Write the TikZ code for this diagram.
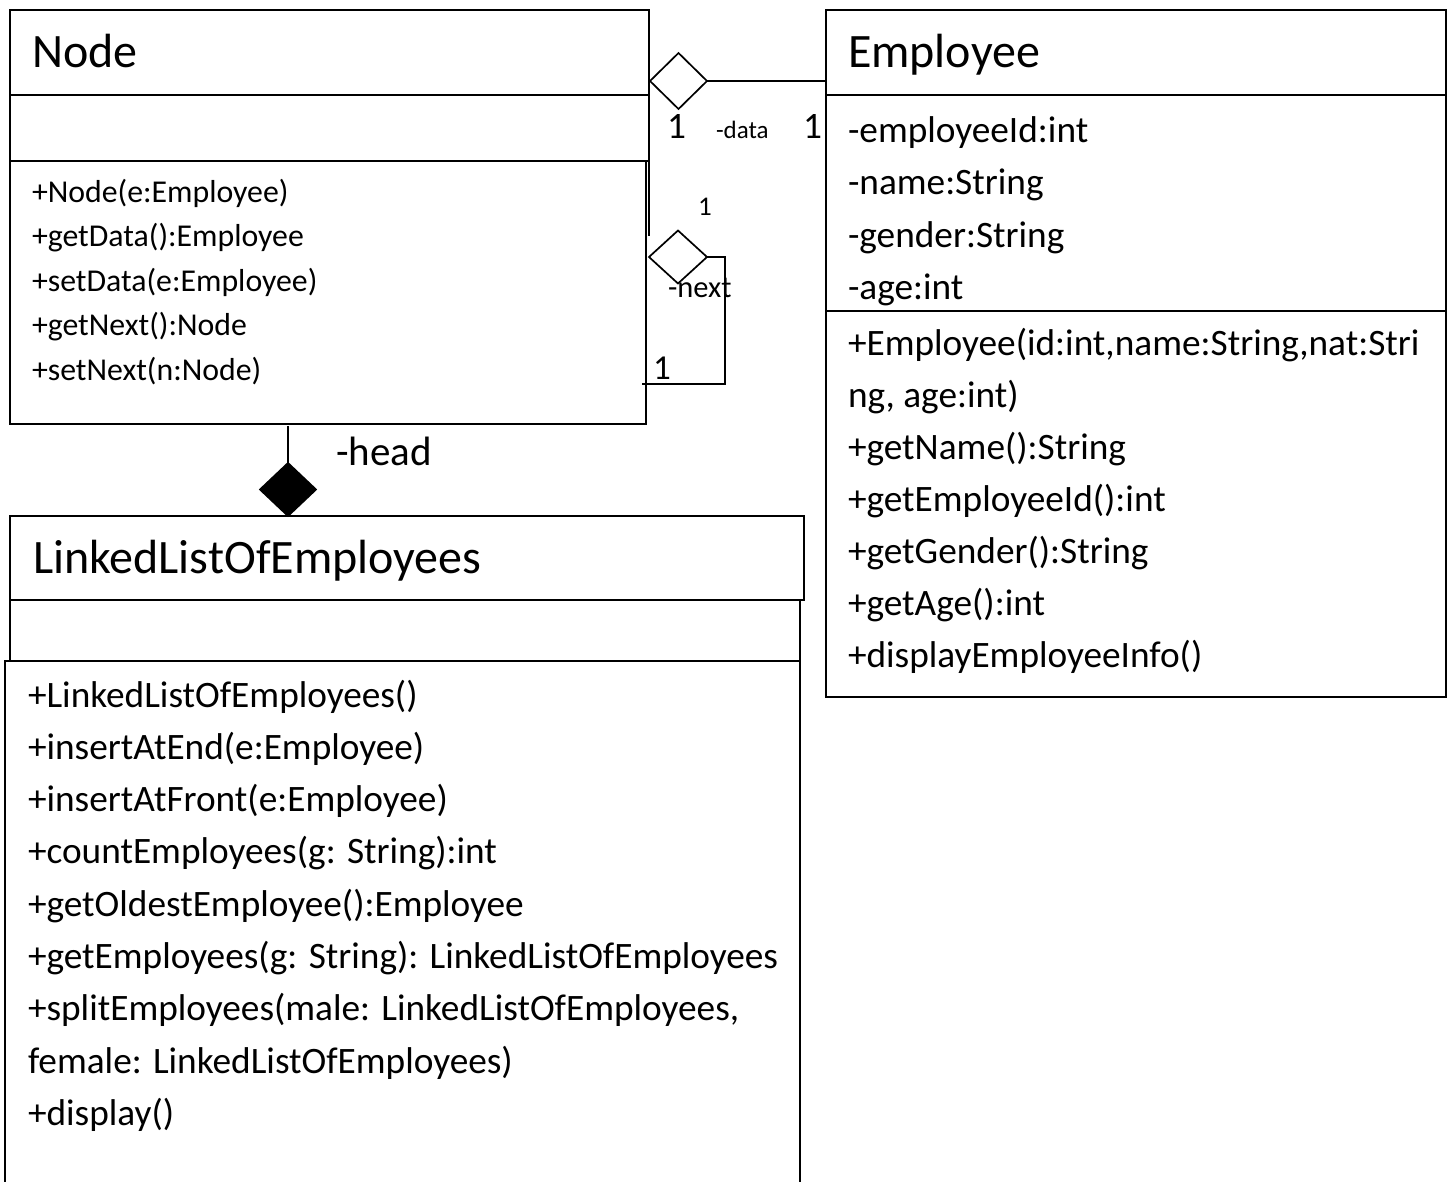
\documentclass[tikz,border=0pt]{standalone}
\usepackage{fontspec}
\setmainfont{Carlito}
\usetikzlibrary{shapes.geometric}
\begin{document}
\begin{tikzpicture}[x=1pt,y=-1pt,
  comp/.style={draw, line width=1.7pt, rectangle, inner sep=0pt, outer sep=0pt, anchor=north west},
  txt/.style={anchor=base west, inner sep=0pt, outer sep=0pt},
  ctitle/.style={txt, font=\fontsize{48}{57}\selectfont},
  member/.style={txt, font=\fontsize{37.3}{44}\selectfont},
  nmember/.style={txt, font=\fontsize{31.8}{38}\selectfont},
  conn/.style={line width=1.7pt},
  agg/.style={diamond, draw, line width=1.7pt, inner sep=0pt, outer sep=0pt, aspect=1}
]
\path[use as bounding box] (0,0) rectangle (1448,1181);
\clip (0,0) rectangle (1448,1181);

% ---------- Node class ----------
\node[comp, minimum width=639pt, minimum height=85pt] (nodeTitle) at (10,10) {};
\node[comp, minimum width=639pt, minimum height=66pt] (nodeAttr) at (10,95) {};
\node[comp, minimum width=636pt, minimum height=263pt] (nodeOps) at (10,161) {};
\draw[conn] (nodeAttr.south east) -- ++(0,75);
\node[ctitle] (nodeName) at (32,67) {Node};
\node[nmember] (n1) at (32,202) {+Node(e:Employee)};
\node[nmember] (n2) at (32,246.5) {+getData():Employee};
\node[nmember] (n3) at (32,291) {+setData(e:Employee)};
\node[nmember] (n4) at (32,335.5) {+getNext():Node};
\node[nmember] (n5) at (32,380) {+setNext(n:Node)};

% ---------- Employee class ----------
\node[comp, minimum width=620pt, minimum height=85pt] (empTitle) at (826,10) {};
\node[comp, minimum width=620pt, minimum height=216pt] (empAttr) at (826,95) {};
\node[comp, minimum width=620pt, minimum height=386pt] (empOps) at (826,311) {};
\node[ctitle] (empName) at (848,67) {Employee};
\node[member] (e1) at (848,142) {-employeeId:int};
\node[member] (e2) at (848,194.5) {-name:String};
\node[member] (e3) at (848,247) {-gender:String};
\node[member] (e4) at (848,299.5) {-age:int};
\node[member] (e5) at (848,355) {+Employee(id:int,name:String,nat:Stri};
\node[member] (e6) at (848,407) {ng, age:int)};
\node[member] (e7) at (848,459) {+getName():String};
\node[member] (e8) at (848,511) {+getEmployeeId():int};
\node[member] (e9) at (848,563) {+getGender():String};
\node[member] (e10) at (848,615) {+getAge():int};
\node[member] (e11) at (848,667) {+displayEmployeeInfo()};

% ---------- LinkedListOfEmployees class ----------
\node[comp, minimum width=794pt, minimum height=84pt] (llTitle) at (10,516) {};
\node[comp, minimum width=790pt, minimum height=61pt] (llAttr) at (10,600) {};
\node[comp, minimum width=795pt, minimum height=560pt] (llOps) at (5,661) {};
\node[ctitle] (llName) at (33,573) {LinkedListOfEmployees};
\node[member] (l1) at (28,707) {+LinkedListOfEmployees()};
\node[member] (l2) at (28,759.3) {+insertAtEnd(e:Employee)};
\node[member] (l3) at (28,811.6) {+insertAtFront(e:Employee)};
\node[member] (l4) at (28,863.9) {+countEmployees(g: String):int};
\node[member] (l5) at (28,916.2) {+getOldestEmployee():Employee};
\node[member] (l6) at (28,968.5) {+getEmployees(g: String): LinkedListOfEmployees};
\node[member] (l7) at (28,1020.8) {+splitEmployees(male: LinkedListOfEmployees,};
\node[member] (l8) at (28,1073.1) {female: LinkedListOfEmployees)};
\node[member] (l9) at (28,1125.4) {+display()};

% ---------- data aggregation ----------
\node[agg, minimum width=57pt, minimum height=56pt] (dData) at (678.5,81) {};
\draw[conn] (dData.east) -- (dData.east -| empTitle.west);
\node[member] (mDataA) at (667,138) {1};
\node[txt, font=\fontsize{25}{30}\selectfont] (roleData) at (716,138) {-data};
\node[member] (mDataB) at (803,138) {1};

% ---------- next self aggregation ----------
\node[agg, minimum width=58pt, minimum height=53pt] (dNext) at (678,257) {};
\coordinate (loopX) at (725,384);
\coordinate (nextEnd) at (642,384);
\draw[conn] (dNext.east) -| (loopX) -- (nextEnd);
\node[txt, font=\fontsize{27}{32}\selectfont] (mNextA) at (698,215) {1};
\node[txt, font=\fontsize{30.5}{36}\selectfont] (roleNext) at (668,297) {-next};
\node[txt, font=\fontsize{35}{42}\selectfont] (mNextB) at (653,379) {1};

% ---------- head composition ----------
\node[agg, fill=black, minimum width=56pt, minimum height=53pt] (dHead) at (288,489.5) {};
\coordinate (headStart) at (288,426);
\draw[conn] (dHead.north) -- (headStart);
\node[txt, font=\fontsize{41}{49}\selectfont] (roleHead) at (336,465) {-head};
\end{tikzpicture}
\end{document}
